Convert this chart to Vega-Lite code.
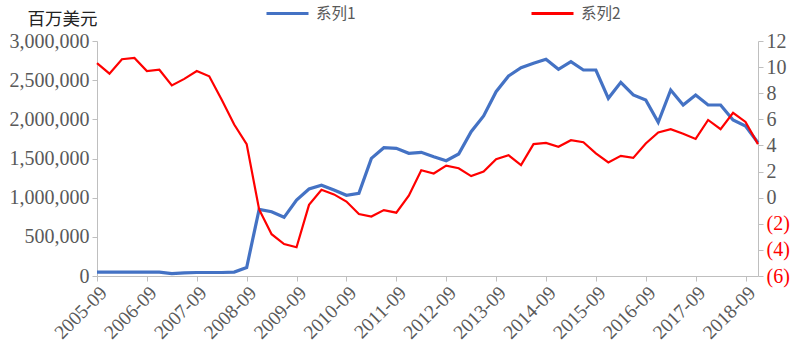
{
  "$schema": "https://vega.github.io/schema/vega-lite/v6.json",
  "width": 661,
  "height": 235,
  "autosize": "none",
  "padding": {"left": 97, "top": 41, "right": 39, "bottom": 68},
  "background": "white",
  "config": {
    "view": {"stroke": null},
    "axis": {"labelFont": "Liberation Serif, serif", "labelFontSize": 20, "labelColor": "#595959", "domainColor": "#BFBFBF", "tickColor": "#BFBFBF", "grid": false, "tickSize": 5}
  },
  "data": {"values": [
    {"q": "2005-09", "a": 50000, "b": 10.3},
    {"q": "2005-12", "a": 50000, "b": 9.5},
    {"q": "2006-03", "a": 50000, "b": 10.6},
    {"q": "2006-06", "a": 50000, "b": 10.7},
    {"q": "2006-09", "a": 50000, "b": 9.7},
    {"q": "2006-12", "a": 50000, "b": 9.8},
    {"q": "2007-03", "a": 30000, "b": 8.6},
    {"q": "2007-06", "a": 40000, "b": 9.1},
    {"q": "2007-09", "a": 45000, "b": 9.7},
    {"q": "2007-12", "a": 45000, "b": 9.3},
    {"q": "2008-03", "a": 45000, "b": 7.5},
    {"q": "2008-06", "a": 50000, "b": 5.6},
    {"q": "2008-09", "a": 108000, "b": 4.1},
    {"q": "2008-12", "a": 851000, "b": -0.9},
    {"q": "2009-03", "a": 821000, "b": -2.8},
    {"q": "2009-06", "a": 749000, "b": -3.55},
    {"q": "2009-09", "a": 970000, "b": -3.8},
    {"q": "2009-12", "a": 1110000, "b": -0.55},
    {"q": "2010-03", "a": 1158000, "b": 0.6},
    {"q": "2010-06", "a": 1098000, "b": 0.25},
    {"q": "2010-09", "a": 1030000, "b": -0.3},
    {"q": "2010-12", "a": 1055000, "b": -1.25},
    {"q": "2011-03", "a": 1502000, "b": -1.45},
    {"q": "2011-06", "a": 1638000, "b": -0.95},
    {"q": "2011-09", "a": 1630000, "b": -1.15},
    {"q": "2011-12", "a": 1566000, "b": 0.15},
    {"q": "2012-03", "a": 1579000, "b": 2.1},
    {"q": "2012-06", "a": 1523000, "b": 1.85},
    {"q": "2012-09", "a": 1472000, "b": 2.45},
    {"q": "2012-12", "a": 1557000, "b": 2.25},
    {"q": "2013-03", "a": 1842000, "b": 1.65},
    {"q": "2013-06", "a": 2043000, "b": 2.0},
    {"q": "2013-09", "a": 2353000, "b": 2.95},
    {"q": "2013-12", "a": 2553000, "b": 3.25},
    {"q": "2014-03", "a": 2659000, "b": 2.5},
    {"q": "2014-06", "a": 2715000, "b": 4.1},
    {"q": "2014-09", "a": 2766000, "b": 4.2},
    {"q": "2014-12", "a": 2638000, "b": 3.9},
    {"q": "2015-03", "a": 2736000, "b": 4.4},
    {"q": "2015-06", "a": 2630000, "b": 4.25},
    {"q": "2015-09", "a": 2630000, "b": 3.4},
    {"q": "2015-12", "a": 2268000, "b": 2.7},
    {"q": "2016-03", "a": 2472000, "b": 3.2},
    {"q": "2016-06", "a": 2311000, "b": 3.05},
    {"q": "2016-09", "a": 2247000, "b": 4.15},
    {"q": "2016-12", "a": 1962000, "b": 5.0},
    {"q": "2017-03", "a": 2374000, "b": 5.25},
    {"q": "2017-06", "a": 2183000, "b": 4.9},
    {"q": "2017-09", "a": 2311000, "b": 4.5},
    {"q": "2017-12", "a": 2183000, "b": 5.95},
    {"q": "2018-03", "a": 2183000, "b": 5.25},
    {"q": "2018-06", "a": 1991000, "b": 6.5},
    {"q": "2018-09", "a": 1915000, "b": 5.8},
    {"q": "2018-12", "a": 1702000, "b": 4.1}
  ]},
  "encoding": {
    "x": {
      "field": "q", "type": "ordinal", "sort": null,
      "scale": {"type": "point", "padding": 0},
      "axis": {
        "title": null,
        "values": ["2005-09","2006-09","2007-09","2008-09","2009-09","2010-09","2011-09","2012-09","2013-09","2014-09","2015-09","2016-09","2017-09","2018-09"],
        "labelAngle": -45,
        "labelPadding": 2,
        "labelFont": "Liberation Serif, serif",
        "labelFontSize": 19.5,
        "labelColor": "#595959"
      }
    }
  },
  "layer": [
    {
      "mark": {"type": "line", "strokeWidth": 3.2},
      "encoding": {
        "y": {
          "field": "a", "type": "quantitative",
          "scale": {"domain": [0, 3000000], "nice": false},
          "axis": {
            "orient": "left",
            "values": [0, 500000, 1000000, 1500000, 2000000, 2500000, 3000000],
            "format": ",.0f",
            "labelPadding": 3,
            "labelFont": "Liberation Serif, serif",
            "labelFontSize": 20,
            "labelColor": "#595959",
            "title": "百万美元",
            "titleAngle": 0,
            "titleAlign": "left",
            "titleBaseline": "middle",
            "titleX": -70,
            "titleY": -22,
            "titleFont": "Noto Sans CJK SC",
            "titleFontSize": 17.5,
            "titleFontWeight": "normal",
            "titleColor": "#222222"
          }
        },
        "color": {
          "datum": "系列1",
          "scale": {"domain": ["系列1", "系列2"], "range": ["#4472C4", "#FF0000"]},
          "legend": {
            "title": null,
            "orient": "none",
            "legendX": 168,
            "legendY": -50,
            "direction": "horizontal",
            "symbolType": "stroke",
            "symbolSize": 1764,
            "symbolStrokeWidth": 3,
            "columnPadding": 169,
            "labelOffset": 6,
            "labelFont": "Noto Sans CJK SC",
            "labelFontSize": 15.5,
            "labelColor": "#595959"
          }
        }
      }
    },
    {
      "mark": {"type": "line", "strokeWidth": 2.2},
      "encoding": {
        "y": {
          "field": "b", "type": "quantitative",
          "scale": {"domain": [-6, 12], "nice": false, "zero": false},
          "axis": {
            "orient": "right",
            "title": null,
            "values": [-6, -4, -2, 0, 2, 4, 6, 8, 10, 12],
            "labelExpr": "datum.value < 0 ? '(' + (-datum.value) + ')' : datum.value",
            "labelFont": "Liberation Serif, serif",
            "labelFontSize": 20,
            "labelColor": {"condition": {"test": "datum.value < 0", "value": "#FF0000"}, "value": "#595959"},
            "labelPadding": 3
          }
        },
        "color": {"datum": "系列2"}
      }
    }
  ],
  "resolve": {"scale": {"y": "independent"}}
}
